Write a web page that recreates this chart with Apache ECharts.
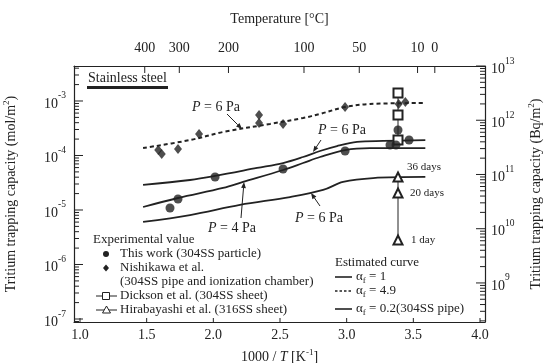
<!DOCTYPE html>
<html>
<head>
<meta charset="utf-8">
<script src="https://cdn.jsdelivr.net/npm/echarts@6/dist/echarts.min.js"></script>
<style>
  html, body { margin: 0; padding: 0; background: #fff; }
  #chart { width: 547px; height: 363px; }
</style>
</head>
<body>
<div id="chart"></div>
<script>
// axis ticks
const xTicks = [1.0, 1.5, 2.0, 2.5, 3.0, 3.5, 4.0];
const tempTicks = [400, 300, 200, 100, 50, 10, 0];      // deg C on top axis
const molDecades = [-7, -6, -5, -4, -3];                // log10 mol/m2
const bqDecades = [9, 10, 11, 12, 13];                  // log10 Bq/m2

// estimated curves, x = 1000/T, y = mol/m2
const dotX = [1.473, 1.825, 2.073, 2.425, 2.673, 2.80, 2.988, 3.175, 3.59];
const dotY = [1.37e-4, 1.92e-4, 2.70e-4, 3.79e-4, 4.88e-4, 5.77e-4, 7.76e-4, 8.81e-4, 9.18e-4];
const topX = [1.473, 1.825, 2.013, 2.328, 2.523, 2.673, 2.80, 2.928, 3.078, 3.273, 3.59];
const topY = [2.88e-5, 3.55e-5, 4.21e-5, 5.90e-5, 7.28e-5, 9.38e-5, 1.21e-4, 1.49e-4, 1.77e-4, 1.85e-4, 1.92e-4];
const midX = [1.473, 1.735, 2.073, 2.223, 2.523, 2.673, 2.80, 2.988, 3.175, 3.59];
const midY = [1.135e-5, 1.66e-5, 2.54e-5, 3.27e-5, 5.42e-5, 7.28e-5, 9.38e-5, 1.26e-4, 1.37e-4, 1.37e-4];
const lowX = [1.473, 1.825, 2.20, 2.575, 2.823, 2.973, 3.198, 3.59];
const lowY = [6.03e-6, 8.09e-6, 1.24e-5, 1.73e-5, 2.33e-5, 3.27e-5, 3.86e-5, 4.04e-5];

// experimental values
const workX = [1.675, 1.735, 2.013, 2.523, 2.988, 3.325, 3.37, 3.385, 3.468];
const workY = [1.09e-5, 1.59e-5, 4.04e-5, 5.65e-5, 1.21e-4, 1.56e-4, 1.56e-4, 2.94e-4, 1.92e-4];
const nishiX = [1.587, 1.613, 1.735, 1.893, 2.343, 2.343, 2.523, 2.988, 3.39, 3.44];
const nishiY = [1.26e-4, 1.07e-4, 1.32e-4, 2.48e-4, 5.53e-4, 3.94e-4, 3.80e-4, 7.76e-4, 8.81e-4, 9.55e-4];
const dicksonX = [3.385, 3.385, 3.385];
const dicksonY = [1.40e-3, 5.53e-4, 1.92e-4];
const hiraX = [3.385, 3.385, 3.385];
const hiraY = [4.04e-5, 2.05e-5, 2.82e-6];

const ink = '#222';
const serif = '"Liberation Serif", "DejaVu Serif", serif';

function pts(xs, ys) {
  return xs.map((x, i) => [x, Math.log10(ys[i])]);
}
function minorTicks(lo, hi) {
  let out = [];
  for (let n = Math.floor(lo) - 1; n <= Math.ceil(hi); n++) {
    for (let k = 2; k <= 9; k++) {
      let v = n + Math.log10(k);
      if (v > lo && v < hi) out.push(v);
    }
  }
  return out;
}

const molMin = -7.055, molMax = -2.358;
const bqMin = 8.28, bqMax = 13.0;
const xMin = 0.955, xMax = 4.0375;
const tempPos = tempTicks.map(t => 1000 / (t + 273.15));

const supRich = {
  b: { fontSize: 14, fontFamily: serif, color: ink, lineHeight: 20, verticalAlign: 'bottom' },
  s: { fontSize: 9.5, fontFamily: serif, color: ink, lineHeight: 20, verticalAlign: 'top' }
};
const nameRich = {
  n: { fontSize: 14, fontFamily: serif, color: ink, lineHeight: 18 },
  i: { fontSize: 14, fontFamily: serif, color: ink, fontStyle: 'italic', lineHeight: 18 },
  s: { fontSize: 9, fontFamily: serif, color: ink, lineHeight: 18, verticalAlign: 'top' }
};

function arrow(x1, y1, x2, y2) {
  let a = Math.atan2(y2 - y1, x2 - x1), L = 6, w = 2.4;
  let bx = x2 - L * Math.cos(a), by = y2 - L * Math.sin(a);
  return [
    { type: 'line', shape: { x1: x1, y1: y1, x2: bx, y2: by }, style: { stroke: ink, lineWidth: 1 } },
    { type: 'polygon', shape: { points: [[x2, y2], [bx + w * Math.sin(a), by - w * Math.cos(a)], [bx - w * Math.sin(a), by + w * Math.cos(a)]] }, style: { fill: ink } }
  ];
}
function txt(x, y, text, size, extra) {
  return Object.assign({
    type: 'text', x: x, y: y,
    style: {
      text: text, fontSize: size || 13, fontFamily: serif, fill: ink, verticalAlign: 'middle',
      rich: {
        i: { fontStyle: 'italic', fontSize: size || 13, fontFamily: serif, fill: ink },
        a: { fontSize: size || 13, fontFamily: serif, fill: ink, lineHeight: 16 },
        f: { fontSize: 9, fontFamily: serif, fill: ink, lineHeight: 16, verticalAlign: 'bottom' }
      }
    }
  }, extra || {});
}

let chart = echarts.init(document.getElementById('chart'));

let graphics = [
  txt(88, 78, 'Stainless steel', 14),
  { type: 'rect', shape: { x: 87, y: 86, width: 81, height: 3 }, style: { fill: ink } },
  txt(192, 107, '{i|P} = 6 Pa', 14),
  txt(318, 130, '{i|P} = 6 Pa', 14),
  txt(208, 228, '{i|P} = 4 Pa', 14),
  txt(295, 218, '{i|P} = 6 Pa', 14),
  txt(407, 167, '36 days', 11),
  txt(410, 193, '20 days', 11),
  txt(411, 240, '1 day', 11),
  // experimental legend
  txt(93, 240, 'Experimental value'),
  { type: 'circle', shape: { cx: 106, cy: 254, r: 3 }, style: { fill: ink } },
  txt(120, 254, 'This work (304SS particle)'),
  { type: 'polygon', shape: { points: [[106, 264.5], [109, 268], [106, 271.5], [103, 268]] }, style: { fill: ink } },
  txt(120, 268, 'Nishikawa et al.'),
  txt(120, 282, '(304SS pipe and ionization chamber)'),
  { type: 'line', shape: { x1: 96, y1: 296, x2: 117, y2: 296 }, style: { stroke: ink, lineWidth: 1 } },
  { type: 'rect', shape: { x: 102.5, y: 292.5, width: 7, height: 7 }, style: { fill: '#fff', stroke: ink, lineWidth: 1 } },
  txt(120, 296, 'Dickson et al. (304SS sheet)'),
  { type: 'line', shape: { x1: 96, y1: 310, x2: 117, y2: 310 }, style: { stroke: ink, lineWidth: 1 } },
  { type: 'polygon', shape: { points: [[106.5, 306], [110.5, 313], [102.5, 313]] }, style: { fill: '#fff', stroke: ink, lineWidth: 1 } },
  txt(120, 310, 'Hirabayashi et al. (316SS sheet)'),
  // estimated curve legend
  txt(335, 263, 'Estimated curve'),
  { type: 'line', shape: { x1: 335, y1: 277, x2: 352, y2: 277 }, style: { stroke: ink, lineWidth: 1.6 } },
  txt(356, 277, '{a|α}{f|f}{a| = 1}'),
  { type: 'line', shape: { x1: 335, y1: 291, x2: 352, y2: 291 }, style: { stroke: ink, lineWidth: 1.6, lineDash: [2.5, 2] } },
  txt(356, 291, '{a|α}{f|f}{a| = 4.9}'),
  { type: 'line', shape: { x1: 335, y1: 309, x2: 352, y2: 309 }, style: { stroke: ink, lineWidth: 1.6 } },
  txt(356, 309, '{a|α}{f|f}{a| = 0.2(304SS pipe)}')
]
  .concat(arrow(227, 114, 242, 129))
  .concat(arrow(321, 140, 313, 152))
  .concat(arrow(241, 218, 244, 182))
  .concat(arrow(320, 206, 311, 193));

let option = {
  backgroundColor: '#fff',
  animation: false,
  textStyle: { fontFamily: serif, color: ink },
  grid: { left: 74, right: 62, top: 66, bottom: 41, containLabel: false, outerBoundsMode: 'none' },
  xAxis: [
    {
      type: 'value', position: 'bottom', min: xMin, max: xMax,
      axisLine: { show: true, lineStyle: { color: ink, width: 1.2 } },
      axisTick: { show: false },
      axisLabel: { customValues: xTicks, formatter: v => v.toFixed(1), color: ink, fontSize: 14, fontFamily: serif, margin: 6 },
      splitLine: { show: false },
      name: '{n|1000 / }{i|T}{n| [K}{s|-1}{n|]}', nameLocation: 'middle', nameGap: 26,
      nameTextStyle: { rich: nameRich }
    },
    {
      type: 'value', position: 'top', min: xMin, max: xMax,
      axisLine: { show: true, lineStyle: { color: ink, width: 1.2 } },
      axisTick: { show: false },
      axisLabel: {
        customValues: tempPos,
        formatter: v => String(Math.round(1000 / v - 273.15)),
        color: ink, fontSize: 14, fontFamily: serif, margin: 11
      },
      splitLine: { show: false },
      name: 'Temperature [°C]', nameLocation: 'middle', nameGap: 40,
      nameTextStyle: { fontSize: 14, fontFamily: serif, color: ink }
    }
  ],
  yAxis: [
    {
      type: 'value', position: 'left', min: molMin, max: molMax,
      axisLine: { show: true, lineStyle: { color: ink, width: 1.2 } },
      axisTick: { show: false },
      axisLabel: { customValues: molDecades, formatter: v => '{b|10}{s|' + v + '}', rich: supRich, margin: 8 },
      splitLine: { show: false },
      name: 'Tritium trapping capacity (mol/m{s|2})', nameLocation: 'middle', nameRotate: 90, nameGap: 54,
      nameTextStyle: { rich: nameRich, fontSize: 14 }
    },
    {
      type: 'value', position: 'right', min: bqMin, max: bqMax,
      axisLine: { show: true, lineStyle: { color: ink, width: 1.2 } },
      axisTick: { show: false },
      axisLabel: { customValues: bqDecades, formatter: v => '{b|10}{s|' + v + '}', rich: supRich, margin: 6 },
      splitLine: { show: false },
      name: 'Tritium trapping capacity (Bq/m{s|2})', nameLocation: 'middle', nameRotate: 90, nameGap: 42,
      nameTextStyle: { rich: nameRich, fontSize: 14 }
    }
  ],
  series: [
    { name: 'dotted 4.9', type: 'line', data: pts(dotX, dotY), symbol: 'none', smooth: 0.35,
      lineStyle: { color: ink, width: 2, type: [4, 3] } },
    { name: 'P6 a1', type: 'line', data: pts(topX, topY), symbol: 'none', smooth: 0.35,
      lineStyle: { color: ink, width: 1.8 } },
    { name: 'P4 a1', type: 'line', data: pts(midX, midY), symbol: 'none', smooth: 0.35,
      lineStyle: { color: ink, width: 1.8 } },
    { name: 'P6 a0.2', type: 'line', data: pts(lowX, lowY), symbol: 'none', smooth: 0.35,
      lineStyle: { color: ink, width: 1.8 } },
    { name: 'Dickson', type: 'line', data: pts(dicksonX, dicksonY), symbol: 'emptyRect', symbolSize: 9,
      itemStyle: { color: ink, borderWidth: 1 }, lineStyle: { color: ink, width: 1 }, z: 3 },
    { name: 'Hirabayashi', type: 'line', data: pts(hiraX, hiraY), symbol: 'emptyTriangle', symbolSize: 9,
      itemStyle: { color: ink, borderWidth: 1 }, lineStyle: { color: ink, width: 1 }, z: 3 },
    { name: 'Nishikawa', type: 'scatter', data: pts(nishiX, nishiY), symbol: 'diamond', symbolSize: [8, 10],
      itemStyle: { color: ink }, z: 4 },
    { name: 'This work', type: 'scatter', data: pts(workX, workY), symbol: 'circle', symbolSize: 9,
      itemStyle: { color: ink }, z: 5 }
  ],
  graphic: graphics
};
chart.setOption(option);

// inward ticks, placed through the axes' own scales
let ticks = [];
function tick(x1, y1, x2, y2) {
  ticks.push({ type: 'line', z: 10, shape: { x1: x1, y1: y1, x2: x2, y2: y2 }, style: { stroke: ink, lineWidth: 1 } });
}
function xPix(i, v) { return chart.convertToPixel({ xAxisIndex: i }, v); }
function yPix(i, v) { return chart.convertToPixel({ yAxisIndex: i }, v); }
let gl = xPix(0, xMin), gr = xPix(0, xMax);
let gb = yPix(0, molMin), gt = yPix(0, molMax);
xTicks.forEach(v => { let px = xPix(0, v); tick(px, gb, px, gb - 4); });
tempPos.forEach(v => { let px = xPix(1, v); tick(px, gt, px, gt + 7); });
molDecades.forEach(v => { let py = yPix(0, v); tick(gl, py, gl + 9, py); });
minorTicks(molMin, molMax).forEach(v => { let py = yPix(0, v); tick(gl, py, gl + 5, py); });
bqDecades.forEach(v => { let py = yPix(1, v); tick(gr, py, gr - 9, py); });
minorTicks(bqMin, bqMax).forEach(v => { let py = yPix(1, v); tick(gr, py, gr - 5, py); });
chart.setOption({ graphic: { elements: graphics.concat(ticks) } });
</script>
</body>
</html>
